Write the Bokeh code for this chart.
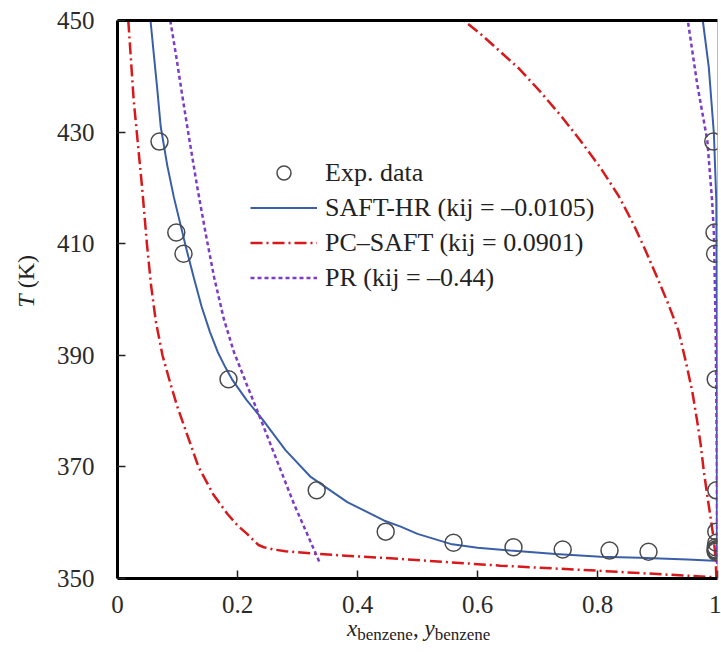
from bokeh.plotting import figure
from bokeh.models import (LinearAxis, FixedTicker, Range1d, Legend, LegendItem, Div)
from bokeh.layouts import row, column
from bokeh.embed import file_html
from bokeh.resources import INLINE

# ---------------- data ----------------
x_ticks = [0, 0.2, 0.4, 0.6, 0.8, 1.0]
x_tick_labels = ["0", "0.2", "0.4", "0.6", "0.8", "1"]
y_ticks = [350, 370, 390, 410, 430, 450]

# experimental data: liquid (x) and vapour (y) compositions at temperature T
exp_T = [428.3, 412.0, 408.2, 385.7, 365.8, 358.4, 356.4, 355.6, 355.2, 355.0, 354.8]
exp_x = [0.070, 0.098, 0.110, 0.185, 0.332, 0.447, 0.560, 0.660, 0.742, 0.820, 0.885]
exp_y = [0.993, 0.995, 0.996, 0.997, 0.998, 0.998, 0.998, 0.997, 0.997, 0.997, 0.997]

# SAFT-HR (kij = -0.0105): liquid branch then vapour branch
saft_hr_x = [0.055, 0.060, 0.066, 0.072, 0.083, 0.094, 0.114, 0.127, 0.140, 0.154,
             0.167, 0.180, 0.192, 0.215, 0.241, 0.280, 0.322, 0.383, 0.444, 0.472,
             0.500, 0.555, 0.600, 0.655, 0.730, 0.805, 0.870, 0.950, 0.994, 0.999,
             0.999, 0.998, 0.994, 0.9855, 0.9755]
saft_hr_T = [450.0, 444.5, 438.0, 431.0, 424.0, 418.3, 409.4, 404.0, 398.8, 394.2,
             390.6, 387.8, 385.5, 382.0, 378.6, 373.0, 368.2, 363.7, 360.4, 359.3,
             358.0, 356.2, 355.5, 355.0, 354.4, 353.9, 353.7, 353.4, 353.2, 354.0,
             395.0, 417.7, 429.7, 441.6, 450.0]

# PC-SAFT (kij = 0.0901): liquid branch then vapour branch
pc_saft_x = [0.018, 0.027, 0.041, 0.049, 0.056, 0.064, 0.075, 0.088, 0.100, 0.135,
             0.160, 0.183, 0.200, 0.216, 0.227, 0.235, 0.244, 0.260, 0.280, 0.333,
             0.472, 0.638, 0.800, 0.998,
             0.997, 0.994, 0.988, 0.983, 0.977, 0.972, 0.966, 0.958, 0.948, 0.935,
             0.918, 0.900, 0.880, 0.860, 0.835, 0.805, 0.772, 0.740, 0.705, 0.670,
             0.633, 0.605, 0.577]
pc_saft_T = [450.0, 435.7, 420.1, 410.0, 402.5, 396.0, 390.0, 385.0, 380.7, 370.0,
             365.0, 361.6, 359.5, 358.0, 356.8, 356.0, 355.6, 355.2, 354.9, 354.4,
             353.5, 352.3, 351.4, 350.2,
             353.5, 356.8, 361.3, 364.8, 369.4, 374.0, 378.3, 383.5, 388.5, 394.4,
             399.2, 403.8, 408.8, 413.5, 418.6, 423.6, 428.4, 432.8, 437.2, 441.3,
             444.9, 447.6, 450.0]

# PR (kij = -0.44): separate liquid and vapour branches
pr_liq_x = [0.088, 0.098, 0.108, 0.120, 0.133, 0.147, 0.161, 0.177, 0.194, 0.216,
            0.241, 0.268, 0.294, 0.316, 0.338]
pr_liq_T = [450.0, 443.5, 436.5, 428.5, 420.1, 411.8, 404.0, 396.6, 390.6, 384.6,
            377.9, 370.5, 363.4, 358.0, 352.6]
pr_vap_x = [0.9995, 0.999, 0.997, 0.994, 0.991, 0.983, 0.966, 0.9505]
pr_vap_T = [352.6, 370.0, 394.4, 411.8, 417.7, 428.5, 438.7, 450.0]

SERIF = "Liberation Serif"
TXT = "#222222"

p = figure(width=674, height=624, frame_width=600, frame_height=558,
           x_range=Range1d(0, 1), y_range=Range1d(350, 450),
           output_backend="svg", toolbar_location=None,
           min_border_left=70, min_border_right=4,
           min_border_top=20, min_border_bottom=46, margin=0)
p.outline_line_color = None
p.xgrid.grid_line_color = None
p.ygrid.grid_line_color = None
p.background_fill_color = "white"

# ---- axes ----
xa = p.xaxis[0]
xa.ticker = FixedTicker(ticks=x_ticks)
xa.major_label_overrides = {t: s for t, s in zip(x_ticks, x_tick_labels)}
xa.major_label_standoff = 17
ya = p.yaxis[0]
ya.ticker = FixedTicker(ticks=y_ticks)
ya.major_label_standoff = 23
for ax in (xa, ya):
    ax.axis_line_width = 3
    ax.axis_line_color = "black"
    ax.major_tick_in = 8
    ax.major_tick_out = 0
    ax.major_tick_line_width = 1.5
    ax.major_tick_line_color = "#222222"
    ax.minor_tick_line_color = None
    ax.major_label_text_font = SERIF
    ax.major_label_text_font_size = "25px"
    ax.major_label_text_color = "#2a2a2a"

top_ax = LinearAxis(ticker=FixedTicker(ticks=[]), axis_line_width=3,
                    axis_line_color="black", major_tick_in=0, major_tick_out=0,
                    minor_tick_line_color=None)
p.add_layout(top_ax, "above")
right_ax = LinearAxis(ticker=FixedTicker(ticks=[]), axis_line_width=1,
                      axis_line_color="#777777", axis_line_dash="1 1",
                      major_tick_in=0, major_tick_out=0, minor_tick_line_color=None)
p.add_layout(right_ax, "right")

# ---- curves ----
r_hr = p.line(saft_hr_x, saft_hr_T, line_color="#3a5fa8", line_width=2)
r_pc = p.line(pc_saft_x, pc_saft_T, line_color="#d7191c", line_width=2.5,
              line_dash="12 4 2 4")
r_pr = p.multi_line([pr_liq_x, pr_vap_x], [pr_liq_T, pr_vap_T],
                    line_color="#7d3cc8", line_width=2.5, line_dash="4 3")
r_exp = p.scatter(exp_x + exp_y, exp_T + exp_T, marker="circle", size=17,
                  fill_color=None, line_color="#4a4a4a", line_width=1.5)

legend = Legend(items=[
    LegendItem(label="Exp. data", renderers=[r_exp]),
    LegendItem(label="SAFT-HR (kij = \u20130.0105)", renderers=[r_hr]),
    LegendItem(label="PC\u2013SAFT (kij = 0.0901)", renderers=[r_pc]),
    LegendItem(label="PR (kij = \u20130.44)", renderers=[r_pr]),
], location=(133, 283), glyph_width=67, glyph_height=35, label_height=35,
    spacing=0, padding=0, margin=0, label_standoff=8,
    border_line_color=None, background_fill_alpha=0,
    label_text_font=SERIF, label_text_font_size="26px", label_text_color=TXT)
p.add_layout(legend)

# ---- axis titles (HTML text: italics and subscripts) ----
ylab = Div(
    text=("<div style=\"position:relative; left:14px; top:255px; "
          "writing-mode:vertical-rl; transform:rotate(180deg); "
          "font-family:'Liberation Serif'; font-size:24px; line-height:24px; "
          "color:#222222; white-space:nowrap;\"><i>T</i> (K)</div>"),
    width=47, height=624, margin=0)

sub = "<span style=\"font-size:17px; vertical-align:-4px;\">benzene</span>"
xlab = Div(
    text=("<div style=\"position:relative; left:347px; top:0px; "
          "font-family:'Liberation Serif'; font-size:23px; line-height:10px; "
          "color:#222222; white-space:nowrap;\">"
          "<i>x</i>" + sub + ", <i>y</i>" + sub + "</div>"),
    width=721, height=32, margin=0)

layout = column(row(ylab, p, spacing=0), xlab, spacing=0)

open("out.html", "w").write(file_html(layout, INLINE))
